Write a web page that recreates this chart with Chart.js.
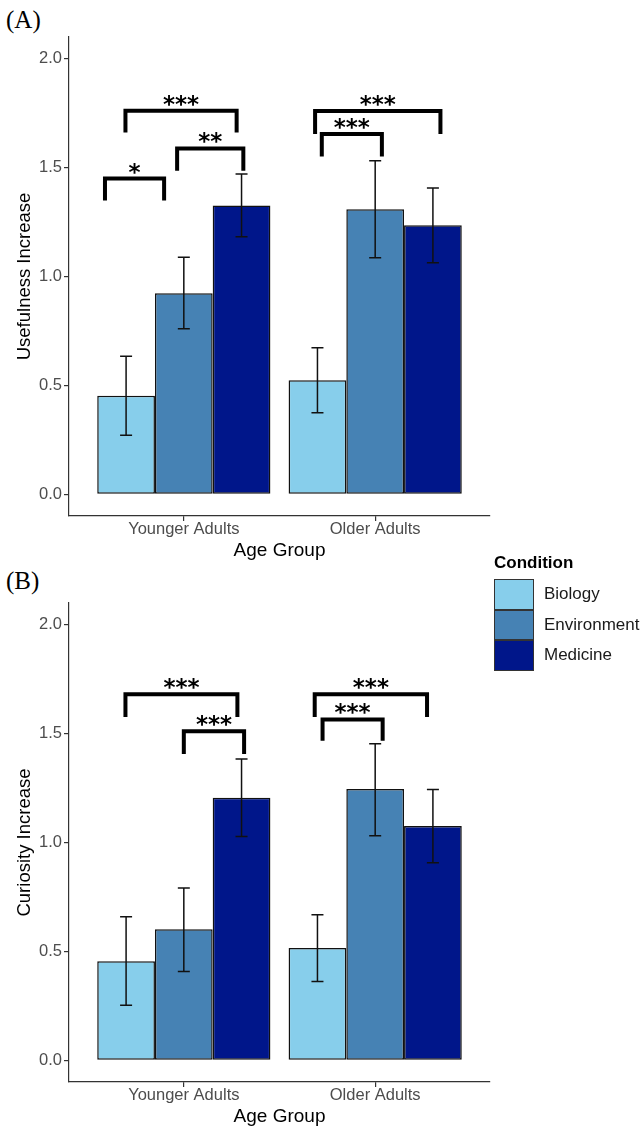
<!DOCTYPE html>
<html lang="en">
<head>
  <meta charset="UTF-8">
  <title>Usefulness and Curiosity Increase by Age Group</title>
  <script src="https://cdn.jsdelivr.net/npm/chart.js"></script>
  <style>
    body {
      margin: 0;
      background: #ffffff;
      font-family: "Liberation Sans", Arial, sans-serif;
    }
    .page {
      position: relative;
      width: 642px;
      height: 1129px;
      overflow: hidden;
    }
    .panel {
      position: absolute;
      left: 0;
      width: 500px;
    }
    .tag {
      position: absolute;
      left: 6px;
      font-family: "Liberation Serif", "Times New Roman", serif;
      font-size: 25px;
      line-height: 25px;
      color: #000;
    }
    #legend {
      position: absolute;
      left: 494px;
      top: 552px;
      color: #000;
    }
    #legend .title {
      font-weight: bold;
      font-size: 17px;
      line-height: 21px;
      margin-bottom: 6px;
    }
    #legend .row {
      display: flex;
      align-items: center;
      height: 30.5px;
    }
    #legend .key {
      width: 40px;
      height: 30.5px;
      box-sizing: border-box;
      border: 1.5px solid #333;
      margin-right: 10px;
    }
    #legend .row span {
      font-size: 17px;
      color: #1a1a1a;
    }
  </style>
</head>
<body>
  <div class="page">
    <div class="tag" style="top:7px">(A)</div>
    <div class="panel" style="top:0; height:566px"><canvas id="chartA"></canvas></div>
    <div class="tag" style="top:568px">(B)</div>
    <div class="panel" style="top:566px; height:563px"><canvas id="chartB"></canvas></div>
    <div id="legend"></div>
  </div>

  <script>
    // categories and conditions
    const ageGroups = ['Younger Adults', 'Older Adults'];
    const conditions = ['Biology', 'Environment', 'Medicine'];
    const colors = ['#87CEEB', '#4682B4', '#00168A'];
    const yTicks = [0.0, 0.5, 1.0, 1.5, 2.0];

    // (A) usefulness increase: mean, lower and upper error bar
    const useBioMean = [0.452, 0.524];
    const useBioLow = [0.271, 0.374];
    const useBioHigh = [0.634, 0.673];
    const useEnvMean = [0.923, 1.309];
    const useEnvLow = [0.760, 1.086];
    const useEnvHigh = [1.088, 1.532];
    const useMedMean = [1.326, 1.235];
    const useMedLow = [1.183, 1.063];
    const useMedHigh = [1.471, 1.407];

    // (B) curiosity increase
    const curBioMean = [0.455, 0.516];
    const curBioLow = [0.253, 0.362];
    const curBioHigh = [0.659, 0.668];
    const curEnvMean = [0.601, 1.246];
    const curEnvLow = [0.408, 1.031];
    const curEnvHigh = [0.791, 1.453];
    const curMedMean = [1.205, 1.076];
    const curMedLow = [1.027, 0.907];
    const curMedHigh = [1.383, 1.243];

    // significance brackets: [x1, x2, y, legEnd, label]  (x in group units, 1 = Younger, 2 = Older)
    const useSig = [
      [0.588, 0.897, 1.450, 1.349, '*'],
      [0.965, 1.311, 1.588, 1.486, '**'],
      [0.695, 1.276, 1.761, 1.661, '***'],
      [1.686, 2.341, 1.760, 1.655, '***'],
      [1.721, 2.035, 1.654, 1.551, '***']
    ];
    const curSig = [
      [0.695, 1.280, 1.681, 1.576, '***'],
      [1.000, 1.315, 1.511, 1.407, '***'],
      [1.684, 2.271, 1.681, 1.576, '***'],
      [1.725, 2.039, 1.565, 1.467, '***']
    ];

    const errorBars = {
      id: 'errorBars',
      afterDatasetsDraw(chart, args, opts) {
        const ctx = chart.ctx;
        const y = chart.scales.y;
        ctx.save();
        ctx.strokeStyle = '#111';
        ctx.lineWidth = 1.5;
        chart.data.datasets.forEach((ds, i) => {
          chart.getDatasetMeta(i).data.forEach((bar, j) => {
            const lo = y.getPixelForValue(ds.low[j]);
            const hi = y.getPixelForValue(ds.high[j]);
            ctx.beginPath();
            ctx.moveTo(bar.x, lo); ctx.lineTo(bar.x, hi);
            ctx.moveTo(bar.x - 6, lo); ctx.lineTo(bar.x + 6, lo);
            ctx.moveTo(bar.x - 6, hi); ctx.lineTo(bar.x + 6, hi);
            ctx.stroke();
          });
        });
        ctx.restore();
      }
    };

    const brackets = {
      id: 'brackets',
      afterDraw(chart, args, opts) {
        const ctx = chart.ctx;
        const xs = chart.scales.x, ys = chart.scales.y;
        ctx.save();
        ctx.strokeStyle = '#000';
        ctx.fillStyle = '#000';
        ctx.lineWidth = 4;
        ctx.lineJoin = 'miter';
        ctx.font = 'bold 23px "DejaVu Sans"';
        ctx.textAlign = 'center';
        ctx.textBaseline = 'alphabetic';
        opts.items.forEach(([a, b, top, end, label]) => {
          const x1 = xs.getPixelForValue(a), x2 = xs.getPixelForValue(b);
          const y1 = ys.getPixelForValue(top), y2 = ys.getPixelForValue(end);
          ctx.beginPath();
          ctx.moveTo(x1, y2); ctx.lineTo(x1, y1); ctx.lineTo(x2, y1); ctx.lineTo(x2, y2);
          ctx.stroke();
          ctx.fillText(label, (x1 + x2) / 2, y1 + 1);
        });
        ctx.restore();
      }
    };

    function makeChart(id, yTitle, means, lows, highs, sig, padBottom) {
      const datasets = conditions.map((c, k) => ({
        label: c,
        data: means[k].map((m, i) => ({ x: i + 1, y: m })),
        low: lows[k],
        high: highs[k],
        backgroundColor: colors[k],
        borderColor: '#111',
        borderWidth: 1.5,
        borderSkipped: false,
        categoryPercentage: 0.905,
        barPercentage: 1.0
      }));

      return new Chart(document.getElementById(id), {
        type: 'bar',
        data: { datasets },
        options: {
          responsive: true,
          maintainAspectRatio: false,
          animation: false,
          layout: { padding: { top: 37, right: 10, bottom: padBottom, left: 0 } },
          plugins: {
            legend: { display: false },
            tooltip: { enabled: false },
            brackets: { items: sig }
          },
          scales: {
            x: {
              type: 'linear',
              min: 0.4,
              max: 2.6,
              offset: false,
              afterBuildTicks: s => { s.ticks = ageGroups.map((g, i) => ({ value: i + 1 })); },
              afterFit: s => { s.height = 44; },
              grid: { display: true, offset: false, drawOnChartArea: false, drawTicks: true, tickLength: 5, color: '#333', lineWidth: 1.2 },
              border: { display: true, color: '#333', width: 1.2 },
              ticks: {
                callback: v => ageGroups[v - 1],
                color: '#4d4d4d',
                padding: -1,
                maxRotation: 0,
                font: { family: 'Liberation Sans', size: 16.5 }
              },
              title: {
                display: true,
                text: 'Age Group',
                color: '#000',
                padding: { top: 0, bottom: 0 },
                font: { family: 'Liberation Sans', size: 19, lineHeight: 1 }
              }
            },
            y: {
              min: -0.1,
              max: 2.1,
              afterBuildTicks: s => { s.ticks = yTicks.map(v => ({ value: v })); },
              afterFit: s => { s.width = 69; },
              grid: { display: true, drawOnChartArea: false, drawTicks: true, tickLength: 5, color: '#333', lineWidth: 1.2 },
              border: { display: true, color: '#333', width: 1.2 },
              ticks: {
                callback: v => v.toFixed(1),
                color: '#4d4d4d',
                padding: 2,
                font: { family: 'Liberation Sans', size: 16.5 }
              },
              title: {
                display: true,
                text: yTitle,
                color: '#000',
                padding: { top: 14, bottom: 0 },
                font: { family: 'Liberation Sans', size: 18.5 }
              }
            }
          }
        },
        plugins: [errorBars, brackets]
      });
    }

    makeChart('chartA', 'Usefulness Increase',
      [useBioMean, useEnvMean, useMedMean],
      [useBioLow, useEnvLow, useMedLow],
      [useBioHigh, useEnvHigh, useMedHigh],
      useSig, 6);

    makeChart('chartB', 'Curiosity Increase',
      [curBioMean, curEnvMean, curMedMean],
      [curBioLow, curEnvLow, curMedLow],
      [curBioHigh, curEnvHigh, curMedHigh],
      curSig, 3);

    // shared legend
    const legend = document.getElementById('legend');
    legend.innerHTML = '<div class="title">Condition</div>' + conditions.map((c, k) =>
      '<div class="row"><div class="key" style="background:' + colors[k] + '"></div><span>' + c + '</span></div>'
    ).join('');
  </script>
</body>
</html>
